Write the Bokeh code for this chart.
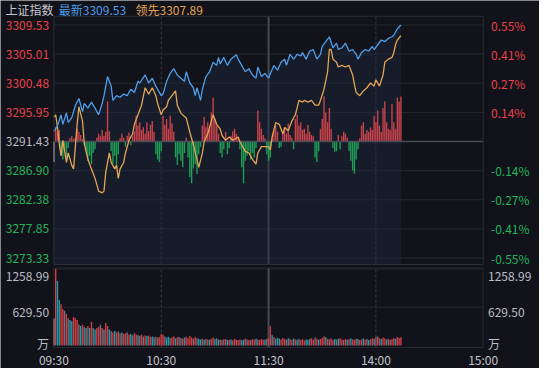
from bokeh.plotting import figure
from bokeh.models import ColumnDataSource, Range1d
from bokeh.core.properties import value
from bokeh.embed import file_html
from bokeh.resources import INLINE

# ---------------- data ----------------
base_price = 3291.43
price_ticks = [3309.53, 3305.01, 3300.48, 3295.95, 3291.43, 3286.90, 3282.38, 3277.85, 3273.33]
price_tick_labels = ["3309.53", "3305.01", "3300.48", "3295.95", "3291.43",
                     "3286.90", "3282.38", "3277.85", "3273.33"]
pct_labels = ["0.55%", "0.41%", "0.27%", "0.14%", "", "-0.14%", "-0.27%", "-0.41%", "-0.55%"]
vol_ticks = [1258.99, 629.50, 0.0]
vol_tick_labels = ["1258.99", "629.50", "万"]
time_ticks = [0, 60, 120, 180, 240]
time_labels = ["09:30", "10:30", "11:30", "14:00", "15:00"]
dashed_times = [60, 180]
session_break = 120
title_texts = ["上证指数", "最新", "领先"]

# (minute since 09:30, price) for the index line (最新)
latest_pts = [
    (0, 3293.00), (2, 3293.85), (4, 3295.58), (5, 3294.10), (7, 3295.88), (8, 3294.40),
    (10, 3295.14), (12, 3297.07), (14, 3298.11), (16, 3296.07), (17, 3297.36), (19, 3296.62),
    (21, 3297.56), (23, 3296.62), (25, 3295.58), (27, 3297.36), (28, 3298.55), (30, 3301.52),
    (32, 3300.03), (33, 3297.81), (35, 3298.55), (37, 3298.30), (39, 3298.80), (41, 3298.55),
    (43, 3299.55), (45, 3299.04), (47, 3300.78), (48, 3300.52), (51, 3301.77), (53, 3300.52),
    (55, 3301.27), (57, 3300.03), (60, 3298.55), (61, 3298.80), (63, 3300.78), (65, 3302.01),
    (67, 3302.75), (69, 3301.77), (71, 3301.27), (73, 3300.78), (74, 3302.26), (76, 3300.52),
    (78, 3299.78), (79, 3298.55), (80, 3299.78), (82, 3297.81), (83, 3299.55), (85, 3301.52),
    (87, 3302.26), (89, 3303.74), (91, 3303.25), (92, 3304.49), (93, 3303.49), (95, 3304.49),
    (97, 3303.25), (99, 3304.23), (102, 3304.89), (103, 3304.23), (105, 3303.25), (107, 3302.26),
    (109, 3302.75), (111, 3301.77), (113, 3301.27), (114, 3303.00), (116, 3301.52), (118, 3302.01),
    (120, 3301.27), (121, 3302.01), (123, 3303.25), (125, 3302.51), (127, 3303.74), (129, 3304.23),
    (130, 3303.25), (132, 3304.98), (134, 3304.23), (136, 3304.98), (138, 3304.74), (139, 3305.23),
    (141, 3304.23), (143, 3305.48), (145, 3305.72), (147, 3304.23), (149, 3304.98), (150, 3306.22),
    (152, 3306.96), (154, 3307.70), (156, 3305.97), (158, 3306.71), (159, 3305.72), (161, 3305.97),
    (163, 3306.71), (165, 3305.48), (167, 3305.72), (169, 3304.98), (170, 3304.23), (172, 3305.23),
    (174, 3305.72), (176, 3305.48), (178, 3306.22), (179, 3305.72), (181, 3306.46), (183, 3307.20),
    (185, 3306.96), (187, 3307.45), (189, 3307.70), (190, 3307.94), (192, 3308.94), (194, 3309.53),
]

# (minute, price) for the leading line (领先)
leading_pts = [
    (0, 3295.20), (1, 3295.58), (2, 3293.66), (3, 3291.13), (4, 3289.20), (5, 3291.62),
    (7, 3288.17), (8, 3289.65), (10, 3287.72), (11, 3287.17), (13, 3294.10), (14, 3296.82),
    (16, 3294.59), (17, 3291.13), (19, 3288.66), (21, 3287.17), (23, 3285.69), (25, 3283.72),
    (27, 3283.46), (28, 3283.72), (29, 3286.68), (31, 3289.65), (32, 3288.17), (34, 3287.17),
    (35, 3287.72), (36, 3285.69), (37, 3287.17), (39, 3288.17), (40, 3289.65), (42, 3291.62),
    (44, 3292.62), (45, 3294.10), (47, 3295.58), (49, 3297.07), (51, 3299.78), (53, 3298.80),
    (55, 3299.78), (57, 3298.55), (58, 3297.32), (60, 3295.58), (61, 3296.33), (63, 3296.82),
    (64, 3297.81), (66, 3298.55), (68, 3299.29), (69, 3297.07), (71, 3295.84), (73, 3295.33),
    (74, 3295.09), (76, 3292.87), (78, 3290.88), (80, 3288.66), (81, 3287.42), (83, 3289.65),
    (84, 3291.39), (86, 3292.62), (88, 3294.59), (89, 3295.58), (91, 3294.10), (93, 3293.36),
    (94, 3292.36), (96, 3291.62), (98, 3292.13), (100, 3291.62), (103, 3292.13), (104, 3291.39),
    (106, 3290.39), (107, 3289.90), (109, 3289.65), (111, 3288.66), (113, 3287.91), (114, 3289.65),
    (116, 3290.64), (118, 3290.64), (120, 3290.64), (121, 3290.14), (122, 3292.13), (124, 3294.35),
    (126, 3294.10), (128, 3292.62), (129, 3293.61), (131, 3293.11), (133, 3294.59), (135, 3295.58),
    (137, 3297.81), (139, 3297.56), (140, 3297.81), (142, 3297.56), (144, 3297.81), (146, 3297.07),
    (148, 3297.07), (149, 3297.81), (151, 3299.55), (153, 3302.26), (154, 3305.72), (155, 3305.72),
    (156, 3304.23), (158, 3303.74), (159, 3303.00), (161, 3303.25), (163, 3303.00), (165, 3303.25),
    (167, 3301.77), (168, 3300.29), (169, 3299.04), (171, 3298.55), (173, 3299.29), (175, 3299.78),
    (177, 3300.52), (179, 3300.03), (180, 3301.03), (182, 3300.03), (184, 3301.77), (185, 3303.74),
    (187, 3304.23), (189, 3304.49), (190, 3305.23), (191, 3306.46), (192, 3307.20), (194, 3307.89),
]

# per-minute buy/sell strength bars (price units around the base line)
strength = [
    -3.2, 2.2, 1.5, 1.8, -1.8, -2.8, -1.2, -2.5, -1.0, 0.5,
    0.8, 0.4, 0.6, 2.0, 1.5, 1.0, 0.4, -0.6, -1.5, -3.0,
    -2.2, -3.5, -1.8, -1.2, 0.6, 1.2, 0.8, 1.8, 0.9, 1.5,
    6.2, 1.6, -1.5, -3.5, -2.2, -4.0, -2.0, 0.5, 1.2, 0.6,
    -0.8, 0.9, 1.4, -0.6, 0.8, 1.6, 4.0, 2.5, 3.0, 1.8,
    2.2, 1.2, 3.0, 1.6, 2.6, 3.2, 1.5, -2.0, -2.8, -3.2,
    -1.5, 4.0, 2.6, 3.5, 2.0, 4.0, 2.8, 1.5, -2.5, -3.6,
    -2.0, -3.0, -4.0, -1.8, 0.6, -2.5, -5.5, -6.5, -4.2, -3.5,
    -5.0, -2.0, -0.8, 2.5, 3.8, 2.2, 3.0, 2.0, 4.5, 6.8,
    3.5, 2.5, 1.2, -1.8, -2.5, -1.2, 1.5, -2.0, -1.0, 0.8,
    1.6, 2.0, 1.2, 0.6, -1.2, -4.0, -6.5, -3.0, -2.2, -1.5,
    -2.8, -1.8, -2.5, -1.0, 4.8, 3.0, 2.0, 1.0, 0.5, -2.0,
    -3.0, -2.5, 0.4, 1.8, 2.5, 1.5, -1.0, -0.8, 1.5, 2.2,
    1.2, 2.8, 1.0, 0.6, -1.2, 3.5, 4.2, 2.5, 3.0, 1.8,
    2.0, 1.2, 2.6, 1.5, 1.0, 0.8, -2.5, -3.2, -1.5, 2.0,
    3.5, 7.0, 4.5, 3.0, 5.2, 2.0, -1.0, -1.6, -1.5, 1.0,
    -1.2, 0.8, 1.5, 1.2, 0.6, -1.5, -3.0, -4.5, -5.0, -2.8,
    -1.2, 0.5, 2.5, 3.0, 1.2, 1.8, 1.5, 2.2, 1.8, 4.0,
    3.0, 4.8, 2.5, 1.5, 5.2, 6.2, 3.0, 2.0, 1.8, 5.8,
    3.0, 2.0, 6.8, 6.2, 7.0,
]

# per-minute volume (万)
volume = [
    445, 1259, 1060, 750, 680, 600, 570, 520, 450, 420,
    400, 470, 450, 420, 345, 320, 340, 310, 290, 320,
    290, 390, 290, 265, 290, 310, 340, 290, 265, 370,
    320, 265, 240, 215, 240, 215, 230, 200, 215, 190,
    200, 215, 180, 190, 170, 200, 180, 170, 160, 175,
    150, 165, 155, 160, 140, 150, 135, 145, 130, 140,
    190, 175, 150, 130, 145, 120, 130, 150, 120, 135,
    140, 125, 110, 130, 145, 120, 155, 130, 115, 140,
    120, 110, 100, 110, 95, 105, 100, 95, 110, 130,
    105, 120, 100, 95, 90, 100, 105, 90, 95, 100,
    85, 110, 95, 90, 100, 85, 95, 110, 100, 90,
    85, 105, 95, 110, 100, 90, 105, 95, 100, 110,
    120, 320, 170, 140, 110, 125, 115, 100, 125, 110,
    95, 120, 105, 90, 115, 100, 95, 110, 90, 105,
    85, 100, 95, 110, 120, 95, 130, 110, 95, 105,
    125, 150, 135, 110, 100, 115, 90, 105, 95, 110,
    120, 100, 90, 110, 95, 105, 115, 100, 95, 110,
    105, 90, 100, 115, 95, 105, 90, 100, 120, 110,
    140, 150, 120, 105, 130, 115, 100, 110, 95, 105,
    120, 110, 140, 125, 135,
]

# per-minute volume direction: w=open, r=up, t=down, n=flat
vol_dir = ("wrttrrnrnt trrrntrntr trntrrnrtr rtnrtrnrtr rnrtnrrtnr "
           "nrtrrttrnr rrnttnrrtr nnrtrrrrnr nttrtnrtrr tntrnnrtrt "
           "rrnrrttrnr nrrtnrrrtn rrtrnttrrr ntrrtrtnrr rttnrrnrtr "
           "rrtrnrrtnt rrnrtrtrrn trrtrntrrt rnrtrrtrnr rtrrr").replace(" ", "")

# ---------------- style ----------------
BG = "#12131a"
GRID = "#25282f"
FRAME = "#2c2f38"
BASE_LINE = "#4a4d57"
NOON_LINE = "#474a55"
DASH_LINE = "#373a45"
RED_TXT = "#e8414a"
GREEN_TXT = "#22b45c"
GRAY_TXT = "#bcbcc4"
BLUE = "#4f9de9"
ORANGE = "#e3a555"
BAR_RED = "#c9434b"
BAR_GREEN = "#1f9f55"
VOL_COLORS = {"w": "#e6d6d8", "r": "#d53c44", "t": "#1aa0ae", "n": "#7a6c78"}
FONT = "Noto Sans CJK SC"
FS = "12px"

# ---------------- layout (canvas pixels) ----------------
IW, IH = 539, 368
FL, FR = 53.4, 482.7                  # plot frame left / right
P_TOP, P_TICK_TOP, P_TICK_BOT, P_BOT = 15.8, 24.5, 257.5, 264.0
V_TOP, V_TICK_TOP, V_BASE, V_BOT = 267.5, 268.5, 345.0, 347.0
TITLE_Y, TIME_Y = 8.8, 358.5
LEFT_LAB_X, RIGHT_PCT_X, RIGHT_VOL_X = 48.6, 490.5, 487.5
TITLE_X = [4.9, 58.3, 135.0]
VOL_LAB_Y = [275.5, 311.5, 343.0]

ppm = (FR - FL) / 240.0
x_start = -FL / ppm
x_end = 240 + (IW - FR) / ppm
pp = (price_ticks[0] - price_ticks[-1]) / (P_TICK_BOT - P_TICK_TOP)
y_end = price_ticks[0] + P_TICK_TOP * pp
y_start = y_end - IH * pp
vp = vol_ticks[0] / (V_BASE - V_TICK_TOP)
v_end = V_BASE * vp
v_start = v_end - IH * vp


def dx(px):
    return x_start + px / ppm


def dy(px):
    return y_end - px * pp


def dv(px):
    return v_end - px * vp


p = figure(width=IW, height=IH, x_range=Range1d(x_start, x_end), y_range=Range1d(y_start, y_end),
           output_backend="svg", toolbar_location=None,
           x_axis_location=None, y_axis_location=None, min_border=0,
           background_fill_color=BG, border_fill_color=BG, outline_line_color=None)
p.extra_y_ranges = {"vol": Range1d(v_start, v_end)}
p.grid.visible = False

pb, pt = dy(P_BOT), dy(P_TOP)
vb, vt = dv(V_BOT), dv(V_TOP)

# grid lines
gt = [t for t in price_ticks if t != base_price]
p.segment(x0=[0] * len(gt), x1=[240] * len(gt), y0=gt, y1=gt, line_color=GRID, line_width=1)
p.segment(x0=[0, 0], x1=[240, 240], y0=vol_ticks[:2], y1=vol_ticks[:2], line_color=GRID,
          line_width=1, y_range_name="vol")
p.segment(x0=dashed_times, x1=dashed_times, y0=[pb] * 2, y1=[pt] * 2, line_color=DASH_LINE,
          line_width=1, line_dash="3 2")
p.segment(x0=dashed_times, x1=dashed_times, y0=[vb] * 2, y1=[vt] * 2, line_color=DASH_LINE,
          line_width=1, line_dash="3 2", y_range_name="vol")
p.segment(x0=[session_break], x1=[session_break], y0=[pb], y1=[pt], line_color=NOON_LINE, line_width=2)
p.segment(x0=[session_break], x1=[session_break], y0=[vb], y1=[vt], line_color=NOON_LINE,
          line_width=2, y_range_name="vol")

lx = [m for m, _ in latest_pts]
ly = [v for _, v in latest_pts]
ox = [m for m, _ in leading_pts]
oy = [v for _, v in leading_pts]

# soft area under latest line
p.varea(x=lx, y1=ly, y2=pb, fill_color="#1d2a40", fill_alpha=0.4)

# strength bars
mins = list(range(len(strength)))
bar_cols = [VOL_COLORS["w"] if i == 0 else (BAR_RED if s > 0 else BAR_GREEN)
            for i, s in enumerate(strength)]
bsrc = ColumnDataSource(dict(x=mins, top=[base_price + s for s in strength],
                             bottom=[base_price] * len(strength), c=bar_cols))
p.vbar(x="x", top="top", bottom="bottom", width=0.78, fill_color="c", line_color=None, source=bsrc)

# base line
p.segment(x0=[0], x1=[240], y0=[base_price], y1=[base_price], line_color=BASE_LINE, line_width=1.5)

# price lines
p.line(ox, oy, line_color=ORANGE, line_width=1.3)
p.line(lx, ly, line_color=BLUE, line_width=1.3)

# volume bars
vsrc = ColumnDataSource(dict(x=list(range(len(volume))), top=volume,
                             c=[VOL_COLORS[d] for d in vol_dir[:len(volume)]]))
p.vbar(x="x", top="top", bottom=0, width=0.78, fill_color="c", line_color=None, source=vsrc,
       y_range_name="vol")

# frames
p.quad(left=[0], right=[240], bottom=[pb], top=[pt], fill_color=None, line_color=FRAME, line_width=1)
p.quad(left=[0], right=[240], bottom=[vb], top=[vt], fill_color=None, line_color=GRID, line_width=1,
       y_range_name="vol")

# price labels
lab_cols = [RED_TXT if t > base_price else (GREEN_TXT if t < base_price else GRAY_TXT) for t in price_ticks]
p.text(x=[dx(LEFT_LAB_X)] * len(price_ticks), y=price_ticks, text=price_tick_labels,
       text_color=lab_cols, text_font=value(FONT), text_font_size=FS,
       text_align="right", text_baseline="middle")
p.text(x=[dx(RIGHT_PCT_X)] * len(price_ticks), y=price_ticks, text=pct_labels,
       text_color=lab_cols, text_font=value(FONT), text_font_size=FS,
       text_align="left", text_baseline="middle")

# volume labels
vly = [dv(py) for py in VOL_LAB_Y]
p.text(x=[dx(LEFT_LAB_X)] * 3, y=vly, text=vol_tick_labels, text_color=GRAY_TXT,
       text_font=value(FONT), text_font_size=FS, text_align="right", text_baseline="middle",
       y_range_name="vol")
p.text(x=[dx(RIGHT_VOL_X)] * 3, y=vly, text=vol_tick_labels, text_color=GRAY_TXT,
       text_font=value(FONT), text_font_size=FS, text_align="left", text_baseline="middle",
       y_range_name="vol")

# time labels
p.text(x=time_ticks, y=[dv(TIME_Y)] * len(time_ticks), text=time_labels, text_color="#c4c4cc",
       text_font=value(FONT), text_font_size=FS, text_align="center", text_baseline="middle",
       y_range_name="vol")

# title
titles = [title_texts[0],
          "%s%.2f" % (title_texts[1], ly[-1]),
          "%s%.2f" % (title_texts[2], oy[-1])]
p.text(x=[dx(t) for t in TITLE_X], y=[dy(TITLE_Y)] * 3, text=titles,
       text_color=["#c8c8ce", BLUE, ORANGE], text_font=value(FONT), text_font_size=FS,
       text_align="left", text_baseline="middle")

open("out.html", "w").write(file_html(p, INLINE))
